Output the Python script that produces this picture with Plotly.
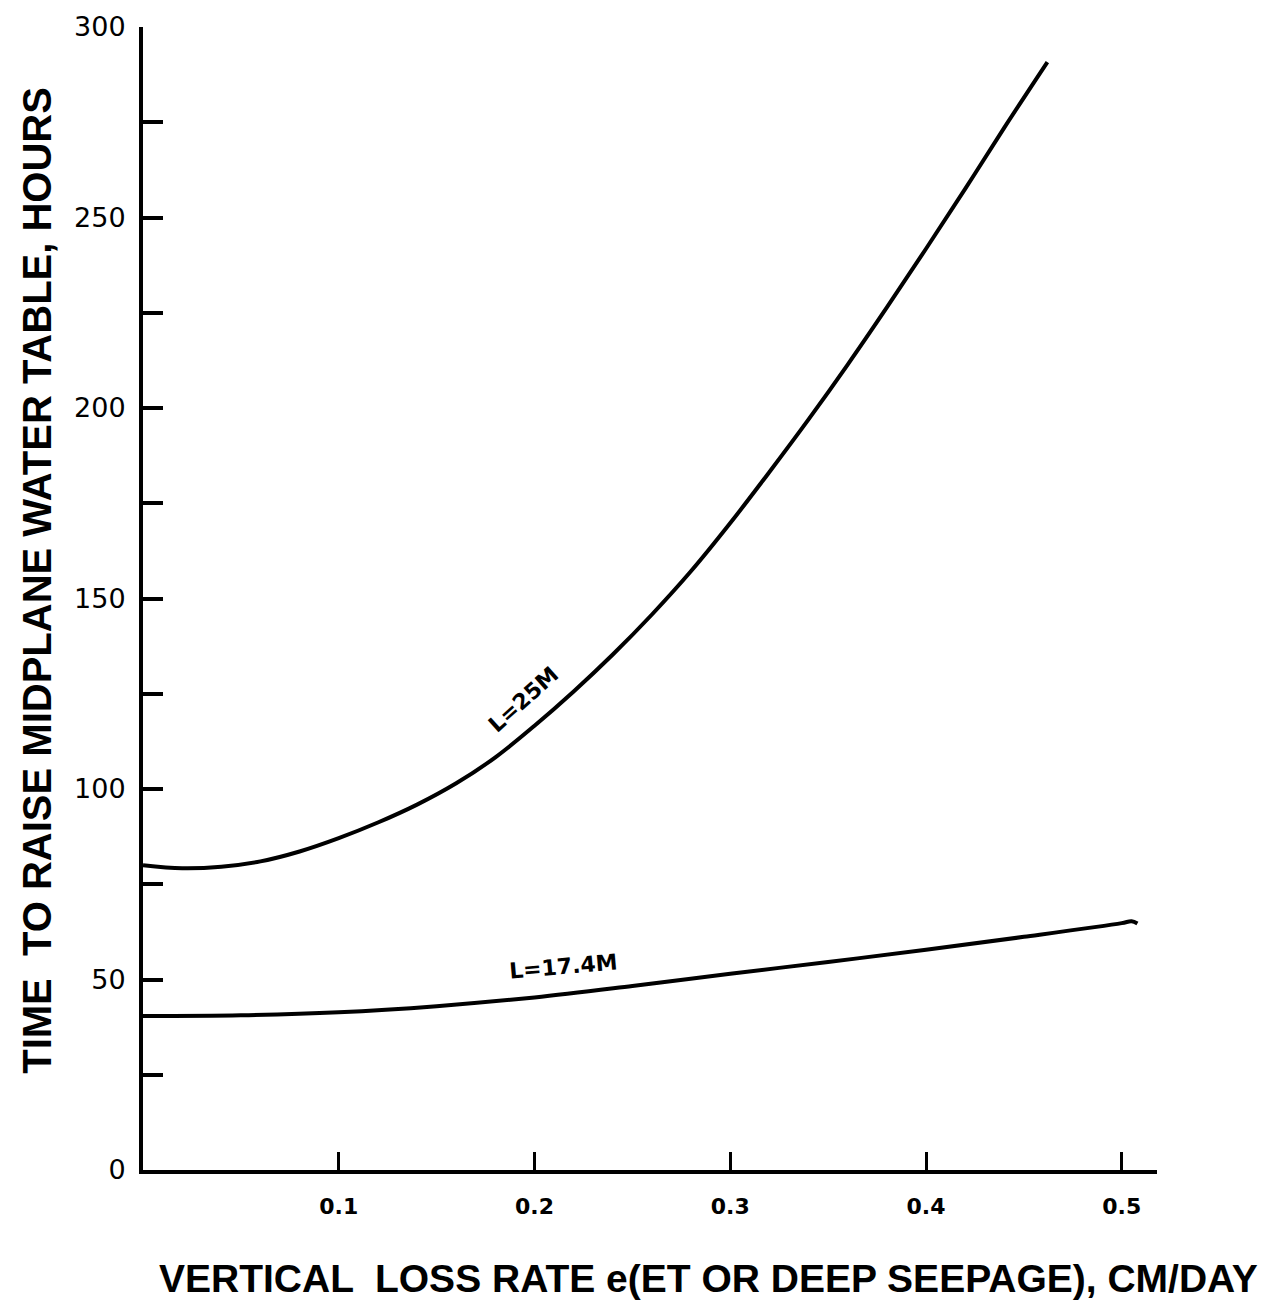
import plotly.graph_objects as go

# Data
e_25 = [0.0, 0.02, 0.04, 0.06, 0.08, 0.10, 0.12, 0.14, 0.16, 0.18, 0.20, 0.22,
        0.24, 0.26, 0.28, 0.30, 0.32, 0.34, 0.36, 0.38, 0.40, 0.42, 0.44, 0.462]
t_25 = [80.0, 79.2, 79.6, 81.0, 83.6, 87.1, 91.2, 95.9, 101.5, 108.3, 116.6, 125.6,
        135.3, 145.8, 157.2, 169.8, 183.2, 197.0, 211.4, 226.4, 241.8, 257.5, 273.6, 290.8]

e_174 = [0.0, 0.05, 0.10, 0.15, 0.20, 0.25, 0.30, 0.35, 0.40, 0.45, 0.50, 0.505, 0.508]
t_174 = [40.4, 40.6, 41.4, 43.0, 45.3, 48.3, 51.5, 54.6, 57.8, 61.2, 64.8, 65.3, 64.7]

y_ticks = [0, 25, 50, 75, 100, 125, 150, 175, 200, 225, 250, 275, 300]
y_ticktext = ["0", "", "50", "", "100", "", "150", "", "200", "", "250", "", "300"]
x_ticks = [0.1, 0.2, 0.3, 0.4, 0.5]
x_ticktext = ["0.1", "0.2", "0.3", "0.4", "0.5"]

x_title = "VERTICAL  LOSS RATE e(ET OR DEEP SEEPAGE), CM/DAY"
y_title = "TIME  TO RAISE MIDPLANE WATER TABLE, HOURS"

fig = go.Figure()
fig.add_trace(go.Scatter(x=e_25, y=t_25, mode="lines",
                         line=dict(color="black", width=4, shape="spline"),
                         showlegend=False, hoverinfo="skip"))
fig.add_trace(go.Scatter(x=e_174, y=t_174, mode="lines",
                         line=dict(color="black", width=4, shape="spline"),
                         showlegend=False, hoverinfo="skip"))

fig.add_annotation(x=0.1944, y=123.5, text="L=25M", showarrow=False,
                   textangle=-42,
                   font=dict(family="DejaVu Sans", size=22, color="black", weight="bold"))
fig.add_annotation(x=0.2148, y=53.5, text="L=17.4M", showarrow=False,
                   textangle=-5,
                   font=dict(family="DejaVu Sans", size=22, color="black", weight="bold"))

fig.add_annotation(xref="paper", yref="paper", x=0.558, y=-0.095, text=x_title,
                   showarrow=False, xanchor="center", yanchor="middle",
                   font=dict(family="Liberation Sans", size=39, color="black", weight="bold"))
fig.add_annotation(xref="paper", yref="paper", x=-0.104, y=0.516, text=y_title,
                   showarrow=False, xanchor="center", yanchor="middle", textangle=-90,
                   font=dict(family="Liberation Sans", size=40, color="black", weight="bold"))

fig.update_layout(
    width=1270, height=1305,
    margin=dict(l=135, r=121, t=19, b=143),
    paper_bgcolor="white", plot_bgcolor="white",
    font=dict(family="DejaVu Sans", color="black"),
    xaxis=dict(range=[0, 0.518], showgrid=False, zeroline=False, automargin=False,
               showline=True, linecolor="black", linewidth=4,
               ticks="inside", ticklen=18, tickwidth=3, tickcolor="black",
               tickvals=x_ticks, ticktext=x_ticktext,
               tickfont=dict(size=22, family="DejaVu Sans", weight="bold"),
               ticklabelstandoff=14),
    yaxis=dict(range=[0, 300], showgrid=False, zeroline=False, automargin=False,
               showline=True, linecolor="black", linewidth=4,
               ticks="inside", ticklen=20, tickwidth=4, tickcolor="black",
               tickvals=y_ticks, ticktext=y_ticktext,
               tickfont=dict(size=27, family="DejaVu Sans"),
               ticklabelstandoff=8),
)

fig.write_html("out.html")
